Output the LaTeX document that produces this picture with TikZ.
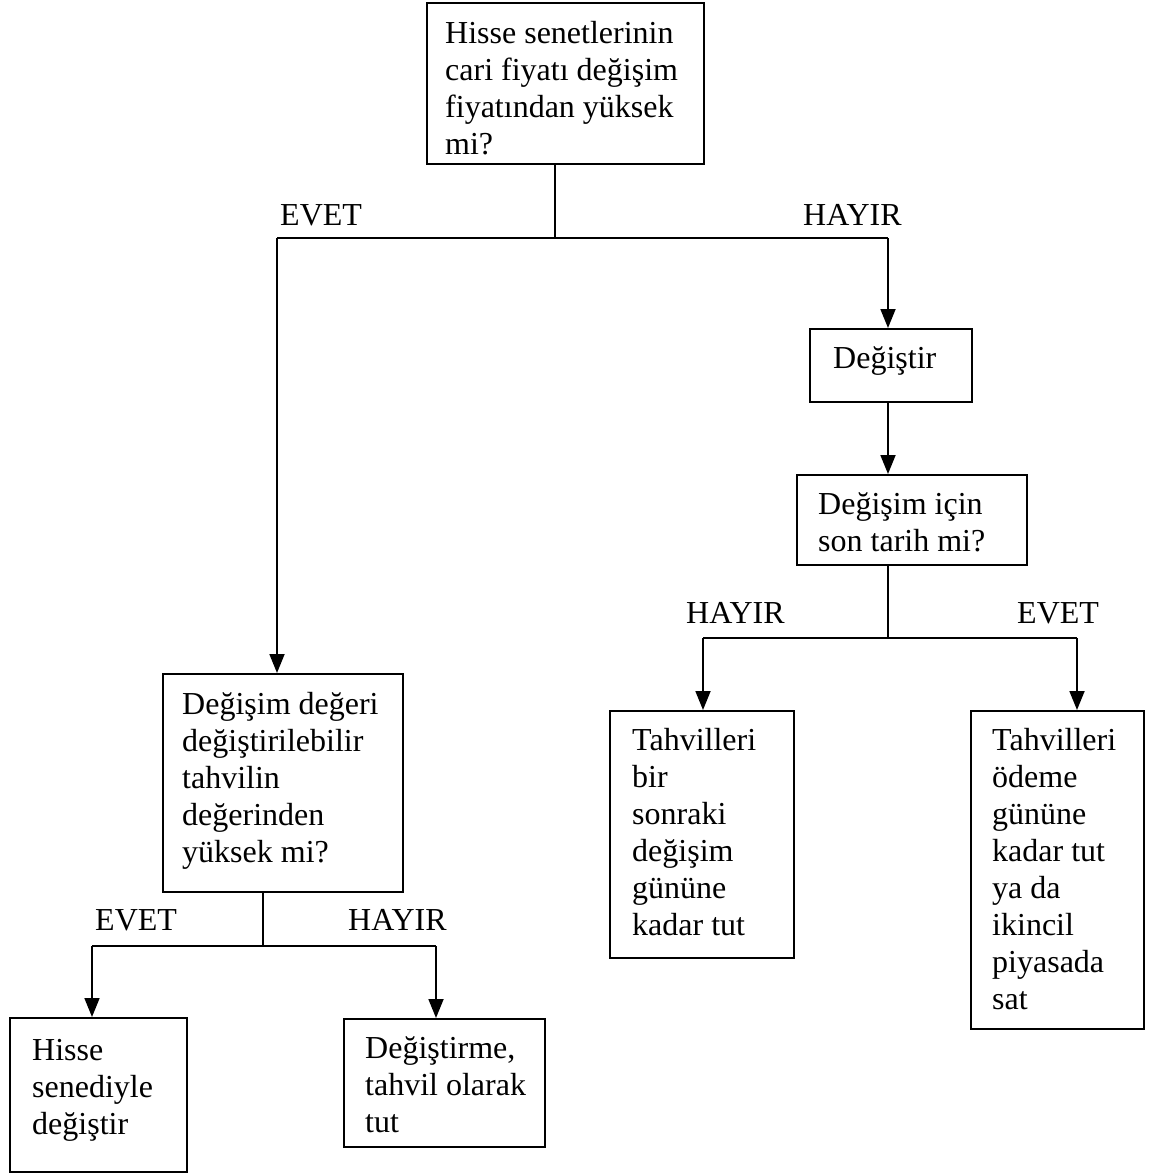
\documentclass[tikz,border=0pt]{standalone}
\usepackage{fontspec}
\setmainfont{Liberation Serif}
\usetikzlibrary{arrows.meta}

\tikzset{
  flowbox/.style={draw, line width=1.8pt, inner sep=0pt, anchor=north west},
  boxtext/.style={inner sep=0pt, anchor=base west, font=\fontsize{32}{37}\selectfont},
  link/.style={line width=1.8pt},
  arr/.style={link, -{Triangle[width=15pt,length=19pt]}},
}
\newcommand\lines[1]{\parbox[t]{400pt}{\raggedright #1}}

\begin{document}
\begin{tikzpicture}[x=1pt,y=-1pt]
  \useasboundingbox (0,0) rectangle (1158,1173);

  % boxes
  \node[flowbox, minimum width=277pt, minimum height=161pt] (q1)   at (426,2)    {};
  \node[flowbox, minimum width=162pt, minimum height=73pt]  (act1) at (809,328)  {};
  \node[flowbox, minimum width=230pt, minimum height=90pt]  (q2)   at (796,474)  {};
  \node[flowbox, minimum width=240pt, minimum height=218pt] (q3)   at (162,673)  {};
  \node[flowbox, minimum width=184pt, minimum height=247pt] (r1)   at (609,710)  {};
  \node[flowbox, minimum width=173pt, minimum height=318pt] (r2)   at (970,710)  {};
  \node[flowbox, minimum width=177pt, minimum height=154pt] (l1)   at (9,1017)   {};
  \node[flowbox, minimum width=201pt, minimum height=128pt] (l2)   at (343,1018) {};

  % box texts
  \node[boxtext] (q1t)   at (445,43)   {\lines{Hisse senetlerinin\\cari fiyatı değişim\\fiyatından yüksek\\mi?}};
  \node[boxtext] (act1t) at (833,368)  {\lines{Değiştir}};
  \node[boxtext] (q2t)   at (818,514)  {\lines{Değişim için\\son tarih mi?}};
  \node[boxtext] (q3t)   at (182,714)  {\lines{Değişim değeri\\değiştirilebilir\\tahvilin\\değerinden\\yüksek mi?}};
  \node[boxtext] (r1t)   at (632,750)  {\lines{Tahvilleri\\bir\\sonraki\\değişim\\gününe\\kadar tut}};
  \node[boxtext] (r2t)   at (992,750)  {\lines{Tahvilleri\\ödeme\\gününe\\kadar tut\\ya da\\ikincil\\piyasada\\sat}};
  \node[boxtext] (l1t)   at (32,1060)  {\lines{Hisse\\senediyle\\değiştir}};
  \node[boxtext] (l2t)   at (365,1058) {\lines{Değiştirme,\\tahvil olarak\\tut}};

  % branch labels
  \node[boxtext] (e1) at (280,225)  {EVET};
  \node[boxtext] (h1) at (803,225)  {HAYIR};
  \node[boxtext] (h2) at (686,623)  {HAYIR};
  \node[boxtext] (e2) at (1017,623) {EVET};
  \node[boxtext] (e3) at (95,930)   {EVET};
  \node[boxtext] (h3) at (348,930)  {HAYIR};

  % first split
  \coordinate (j1)  at (555,238);
  \coordinate (j1l) at (277,238);
  \coordinate (j1r) at (888,238);
  \draw[link] (j1 |- q1.south) -- (j1);
  \draw[link] (j1l) -- (j1r);
  \draw[arr] (j1l) -- (j1l |- q3.north);
  \draw[arr] (j1r) -- (j1r |- act1.north);
  \draw[arr] (j1r |- act1.south) -- (j1r |- q2.north);

  % second split
  \coordinate (j2)  at (888,638);
  \coordinate (j2l) at (703,638);
  \coordinate (j2r) at (1077,638);
  \draw[link] (j2 |- q2.south) -- (j2);
  \draw[link] (j2l) -- (j2r);
  \draw[arr] (j2l) -- (j2l |- r1.north);
  \draw[arr] (j2r) -- (j2r |- r2.north);

  % third split
  \coordinate (j3)  at (263,946);
  \coordinate (j3l) at (92,946);
  \coordinate (j3r) at (436,946);
  \draw[link] (j3 |- q3.south) -- (j3);
  \draw[link] (j3l) -- (j3r);
  \draw[arr] (j3l) -- (j3l |- l1.north);
  \draw[arr] (j3r) -- (j3r |- l2.north);
\end{tikzpicture}
\end{document}
